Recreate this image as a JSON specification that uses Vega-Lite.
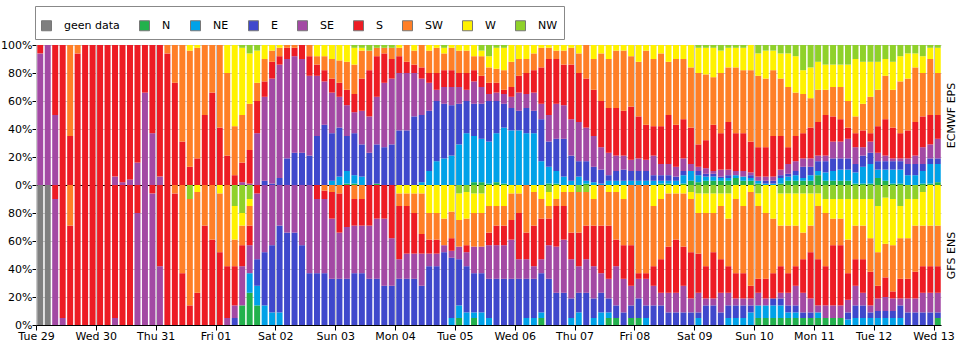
{
"$schema":"https://vega.github.io/schema/vega-lite/v6.json",
"padding":{"left":0,"top":5,"right":0,"bottom":0},
"background":"white",
"bounds":"flush",
"config":{"font":"DejaVu Sans","view":{"stroke":null},
"axis":{"labelFont":"DejaVu Sans","labelFontSize":11,"labelColor":"#000","domainColor":"#000","tickColor":"#000","gridColor":"#c8c8c8","titleFont":"DejaVu Sans","titleFontSize":11,"titleFontWeight":"normal","titleColor":"#000"},
"legend":{"labelFont":"DejaVu Sans","labelFontSize":11,"labelColor":"#000"},
"bar":{"binSpacing":1.5}},
"data":{"values":[
{"m":"EC","i":0,"SE":94,"S":6},{"m":"EC","i":1,"SE":100},{"m":"EC","i":2,"SE":50,"S":50},{"m":"EC","i":3,"S":100},{"m":"EC","i":4,"S":35,"SW":65},{"m":"EC","i":5,"S":94,"SW":6},{"m":"EC","i":6,"S":100},{"m":"EC","i":7,"S":100},{"m":"EC","i":8,"S":100},{"m":"EC","i":9,"S":100},
{"m":"EC","i":10,"SE":6,"S":94},{"m":"EC","i":11,"SE":2,"S":98},{"m":"EC","i":12,"SE":4,"S":96},{"m":"EC","i":13,"SE":16,"S":84},{"m":"EC","i":14,"SE":66,"S":34},{"m":"EC","i":15,"SE":37,"S":63},{"m":"EC","i":16,"SE":6,"S":94},{"m":"EC","i":17,"S":94,"SW":6},{"m":"EC","i":18,"S":73,"SW":27},{"m":"EC","i":19,"S":31,"SW":69},
{"m":"EC","i":20,"S":13,"SW":83,"W":4},{"m":"EC","i":21,"S":19,"SW":79,"W":2},{"m":"EC","i":22,"S":50,"SW":50},{"m":"EC","i":23,"S":66,"SW":34},{"m":"EC","i":24,"S":41,"SW":59},{"m":"EC","i":25,"S":21,"SW":59,"W":20},{"m":"EC","i":26,"S":7,"SW":35,"W":58},{"m":"EC","i":27,"SE":2,"S":14,"SW":34,"W":48,"NW":2},{"m":"EC","i":28,"SE":1,"S":24,"SW":33,"W":36,"NW":6},{"m":"EC","i":29,"SE":37,"S":23,"SW":13,"W":23,"NW":4},
{"m":"EC","i":30,"E":3,"SE":60,"S":11,"SW":16,"W":10},{"m":"EC","i":31,"E":1,"SE":75,"S":12,"SW":8,"W":4},{"m":"EC","i":32,"E":5,"SE":81,"S":6,"SW":6,"W":2},{"m":"EC","i":33,"E":19,"SE":71,"S":8,"SW":2},{"m":"EC","i":34,"E":23,"SE":69,"S":6,"SW":2},{"m":"EC","i":35,"E":23,"SE":67,"S":10},{"m":"EC","i":36,"E":21,"SE":57,"S":14,"SW":8},{"m":"EC","i":37,"E":35,"SE":43,"S":8,"SW":6,"W":8},{"m":"EC","i":38,"E":43,"SE":31,"S":8,"SW":10,"W":8},{"m":"EC","i":39,"NE":3,"E":34,"SE":29,"S":10,"SW":14,"W":10},
{"m":"EC","i":40,"NE":6,"E":35,"SE":22,"S":10,"SW":16,"W":11},{"m":"EC","i":41,"N":1,"NE":9,"E":25,"SE":22,"S":11,"SW":20,"W":12},{"m":"EC","i":42,"N":1,"NE":6,"E":30,"SE":15,"S":13,"SW":21,"W":12,"NW":2},{"m":"EC","i":43,"NE":6,"E":23,"SE":24,"S":23,"SW":20,"W":2,"NW":2},{"m":"EC","i":44,"E":23,"SE":26,"S":33,"SW":14,"NW":4},{"m":"EC","i":45,"N":1,"E":28,"SE":34,"S":29,"SW":6,"NW":2},{"m":"EC","i":46,"E":27,"SE":46,"S":21,"SW":4,"NW":2},{"m":"EC","i":47,"E":29,"SE":47,"S":14,"SW":8,"NW":2},{"m":"EC","i":48,"E":39,"SE":41,"S":12,"SW":6,"W":2},{"m":"EC","i":49,"E":39,"SE":41,"S":8,"SW":12},
{"m":"EC","i":50,"E":49,"SE":31,"S":6,"SW":10,"W":4},{"m":"EC","i":51,"NE":2,"E":48,"SE":26,"S":8,"SW":16},{"m":"EC","i":52,"NE":10,"E":43,"SE":20,"S":7,"SW":16,"W":4},{"m":"EC","i":53,"NE":17,"E":43,"SE":8,"S":12,"SW":18,"W":2},{"m":"EC","i":54,"NE":19,"E":39,"SE":12,"S":12,"SW":12,"W":4,"NW":2},{"m":"EC","i":55,"NE":21,"E":36,"SE":13,"S":12,"SW":16,"W":2},{"m":"EC","i":56,"NE":29,"E":29,"SE":12,"S":10,"SW":16,"W":4},{"m":"EC","i":57,"NE":37,"E":23,"SE":8,"S":12,"SW":16,"W":4},{"m":"EC","i":58,"N":2,"NE":33,"E":23,"SE":16,"S":8,"SW":10,"W":8},{"m":"EC","i":59,"N":2,"NE":31,"E":25,"SE":12,"S":8,"SW":14,"W":4,"NW":4},
{"m":"EC","i":60,"N":1,"NE":30,"E":29,"SE":5,"S":8,"SW":11,"W":8,"NW":8},{"m":"EC","i":61,"N":2,"NE":35,"E":23,"SE":6,"S":7,"SW":10,"W":15,"NW":2},{"m":"EC","i":62,"N":1,"NE":40,"E":17,"SE":7,"S":3,"SW":14,"W":16,"NW":2},{"m":"EC","i":63,"NE":39,"E":16,"SE":8,"S":7,"SW":18,"W":12},{"m":"EC","i":64,"NE":39,"E":14,"SE":13,"S":12,"SW":12,"W":10},{"m":"EC","i":65,"NE":37,"E":18,"SE":10,"S":15,"SW":10,"W":10},{"m":"EC","i":66,"NE":37,"E":16,"SE":13,"S":16,"SW":12,"W":6},{"m":"EC","i":67,"NE":17,"E":30,"SE":11,"S":26,"SW":14,"W":2},{"m":"EC","i":68,"N":1,"NE":12,"E":18,"SE":19,"S":40,"SW":8,"W":2},{"m":"EC","i":69,"N":1,"NE":9,"E":23,"SE":25,"S":32,"SW":6,"W":4},
{"m":"EC","i":70,"NE":6,"E":27,"SE":24,"S":29,"SW":10,"W":4},{"m":"EC","i":71,"NE":3,"E":18,"SE":26,"S":39,"SW":12,"W":2},{"m":"EC","i":72,"NE":6,"E":11,"SE":28,"S":35,"SW":14,"W":6},{"m":"EC","i":73,"N":1,"NE":2,"E":14,"SE":24,"S":35,"SW":24},{"m":"EC","i":74,"NE":2,"E":11,"SE":22,"S":33,"SW":22,"W":10},{"m":"EC","i":75,"NE":1,"E":10,"SE":16,"S":33,"SW":34,"W":6},{"m":"EC","i":76,"NE":3,"E":4,"SE":16,"S":32,"SW":35,"W":10},{"m":"EC","i":77,"NE":3,"E":7,"SE":11,"S":34,"SW":41,"W":4},{"m":"EC","i":78,"NE":3,"E":8,"SE":10,"S":32,"SW":43,"W":4},{"m":"EC","i":79,"NE":3,"E":7,"SE":8,"S":38,"SW":36,"W":8},
{"m":"EC","i":80,"NE":3,"E":7,"SE":9,"S":30,"SW":39,"W":12},{"m":"EC","i":81,"NE":3,"E":7,"SE":8,"S":25,"SW":53,"W":4},{"m":"EC","i":82,"NE":3,"E":4,"SE":14,"S":21,"SW":48,"W":10},{"m":"EC","i":83,"N":1,"NE":2,"E":4,"SE":8,"S":27,"SW":52,"W":6},{"m":"EC","i":84,"N":1,"NE":2,"E":4,"SE":8,"S":35,"SW":38,"W":12},{"m":"EC","i":85,"NE":3,"E":3,"SE":7,"S":30,"SW":47,"W":10},{"m":"EC","i":86,"N":1,"NE":6,"E":3,"SE":9,"S":28,"SW":43,"W":10},{"m":"EC","i":87,"N":3,"NE":7,"SE":5,"S":26,"SW":43,"W":16},{"m":"EC","i":88,"N":2,"NE":5,"E":3,"SE":3,"S":16,"SW":51,"W":18,"NW":2},{"m":"EC","i":89,"N":3,"NE":3,"E":2,"SE":4,"S":20,"SW":47,"W":19,"NW":2},
{"m":"EC","i":90,"N":3,"NE":3,"E":2,"SE":2,"S":33,"SW":34,"W":21,"NW":2},{"m":"EC","i":91,"N":3,"NE":2,"E":1,"SE":5,"S":26,"SW":43,"W":16,"NW":4},{"m":"EC","i":92,"N":3,"NE":2,"E":2,"SE":4,"S":34,"SW":39,"W":14,"NW":2},{"m":"EC","i":93,"N":5,"NE":2,"SE":3,"S":27,"SW":47,"W":14,"NW":2},{"m":"EC","i":94,"N":3,"NE":3,"SE":4,"S":27,"SW":45,"W":16,"NW":2},{"m":"EC","i":95,"N":3,"NE":2,"E":2,"SE":2,"S":22,"SW":51,"W":18},{"m":"EC","i":96,"N":1,"NE":2,"SE":3,"S":21,"SW":51,"W":16,"NW":6},{"m":"EC","i":97,"NE":1,"E":2,"SE":3,"S":21,"SW":49,"W":20,"NW":4},{"m":"EC","i":98,"NE":1,"E":2,"SE":3,"S":29,"SW":47,"W":14,"NW":4},{"m":"EC","i":99,"N":1,"NE":4,"E":2,"SE":4,"S":24,"SW":41,"W":18,"NW":6},
{"m":"EC","i":100,"N":3,"NE":3,"E":2,"SE":7,"S":12,"SW":43,"W":24,"NW":6},{"m":"EC","i":101,"N":3,"NE":4,"E":3,"SE":7,"S":18,"SW":31,"W":26,"NW":8},{"m":"EC","i":102,"N":3,"NE":2,"E":8,"SE":6,"S":18,"SW":28,"W":17,"NW":18},{"m":"EC","i":103,"N":3,"NE":4,"E":6,"SE":6,"S":22,"SW":21,"W":22,"NW":16},{"m":"EC","i":104,"N":7,"NE":3,"E":7,"SE":4,"S":24,"SW":23,"W":20,"NW":12},{"m":"EC","i":105,"N":3,"NE":6,"E":8,"SE":4,"S":29,"SW":18,"W":18,"NW":14},{"m":"EC","i":106,"N":3,"NE":7,"E":9,"SE":12,"S":18,"SW":21,"W":16,"NW":14},{"m":"EC","i":107,"N":3,"NE":8,"E":8,"SE":12,"S":16,"SW":23,"W":16,"NW":14},{"m":"EC","i":108,"N":3,"NE":8,"E":8,"SE":14,"S":8,"SW":19,"W":26,"NW":14},{"m":"EC","i":109,"N":1,"NE":8,"E":6,"SE":12,"S":10,"SW":12,"W":41,"NW":10},
{"m":"EC","i":110,"N":1,"NE":12,"E":8,"SE":6,"S":12,"SW":19,"W":30,"NW":12},{"m":"EC","i":111,"N":1,"NE":14,"E":8,"SE":8,"S":6,"SW":26,"W":25,"NW":12},{"m":"EC","i":112,"N":5,"NE":6,"E":6,"SE":6,"S":19,"SW":26,"W":20,"NW":12},{"m":"EC","i":113,"N":3,"NE":8,"E":6,"SE":4,"S":26,"SW":31,"W":12,"NW":10},{"m":"EC","i":114,"N":1,"NE":10,"E":6,"SE":2,"S":22,"SW":27,"W":20,"NW":12},{"m":"EC","i":115,"N":1,"NE":10,"E":6,"SE":2,"S":18,"SW":37,"W":18,"NW":8},{"m":"EC","i":116,"NE":7,"E":8,"SE":4,"S":20,"SW":37,"W":18,"NW":6},{"m":"EC","i":117,"NE":7,"E":8,"SE":6,"S":24,"SW":39,"W":10,"NW":6},{"m":"EC","i":118,"N":1,"NE":9,"E":5,"SE":12,"S":22,"SW":31,"W":12,"NW":8},{"m":"EC","i":119,"N":1,"NE":14,"E":4,"SE":10,"S":21,"SW":40,"W":8,"NW":2},
{"m":"EC","i":120,"N":2,"NE":13,"E":4,"SE":14,"S":17,"SW":30,"W":18,"NW":2},
{"m":"GFS","i":0,"geen data":100},{"m":"GFS","i":1,"geen data":100},{"m":"GFS","i":2,"SE":90,"S":10},{"m":"GFS","i":3,"SE":5,"S":95},{"m":"GFS","i":4,"S":71,"SW":29},{"m":"GFS","i":5,"S":100},{"m":"GFS","i":6,"S":100},{"m":"GFS","i":7,"S":100},{"m":"GFS","i":8,"S":100},{"m":"GFS","i":9,"S":100},
{"m":"GFS","i":10,"SE":5,"S":95},{"m":"GFS","i":11,"S":100},{"m":"GFS","i":12,"S":100},{"m":"GFS","i":13,"SE":80,"S":20},{"m":"GFS","i":14,"SE":100},{"m":"GFS","i":15,"SE":94,"S":6},{"m":"GFS","i":16,"SE":42,"S":58},{"m":"GFS","i":17,"S":100},{"m":"GFS","i":18,"S":94,"SW":6},{"m":"GFS","i":19,"S":37,"SW":63},
{"m":"GFS","i":20,"S":14,"SW":76,"NW":10},{"m":"GFS","i":21,"S":23,"SW":72,"W":5},{"m":"GFS","i":22,"S":71,"SW":29},{"m":"GFS","i":23,"S":61,"SW":39},{"m":"GFS","i":24,"S":52,"SW":42,"W":6},{"m":"GFS","i":25,"SE":5,"S":37,"SW":58},{"m":"GFS","i":26,"E":5,"SE":9,"S":28,"SW":19,"W":24,"NW":15},{"m":"GFS","i":27,"N":14,"SE":28,"S":15,"SW":14,"W":9,"NW":20},{"m":"GFS","i":28,"N":23,"NE":14,"SE":20,"S":14,"SW":14,"W":5,"NW":10},{"m":"GFS","i":29,"N":14,"NE":14,"E":19,"SE":47,"S":6},
{"m":"GFS","i":30,"NE":14,"E":38,"SE":48},{"m":"GFS","i":31,"NE":9,"E":48,"SE":43},{"m":"GFS","i":32,"NE":9,"E":62,"SE":29},{"m":"GFS","i":33,"E":66,"SE":34},{"m":"GFS","i":34,"E":66,"SE":34},{"m":"GFS","i":35,"E":57,"SE":43},{"m":"GFS","i":36,"E":37,"SE":63},{"m":"GFS","i":37,"E":37,"SE":53,"S":10},{"m":"GFS","i":38,"E":37,"SE":53,"S":6,"SW":4},{"m":"GFS","i":39,"E":33,"SE":43,"S":19,"SW":5},
{"m":"GFS","i":40,"E":33,"SE":33,"S":28,"SW":6},{"m":"GFS","i":41,"E":33,"SE":37,"S":30},{"m":"GFS","i":42,"E":37,"SE":34,"S":19,"SW":10},{"m":"GFS","i":43,"E":37,"SE":34,"S":19,"SW":10},{"m":"GFS","i":44,"E":33,"SE":38,"S":29},{"m":"GFS","i":45,"E":33,"SE":43,"S":24},{"m":"GFS","i":46,"E":28,"SE":48,"S":24},{"m":"GFS","i":47,"E":28,"SE":34,"S":38},{"m":"GFS","i":48,"E":33,"SE":14,"S":38,"SW":9,"W":6},{"m":"GFS","i":49,"E":33,"SE":18,"S":34,"SW":9,"W":6},
{"m":"GFS","i":50,"E":33,"SE":18,"S":29,"SW":14,"W":6},{"m":"GFS","i":51,"E":28,"SE":23,"S":14,"SW":29,"W":6},{"m":"GFS","i":52,"E":42,"SE":9,"S":10,"SW":19,"W":20},{"m":"GFS","i":53,"E":42,"SE":9,"S":10,"SW":19,"W":20},{"m":"GFS","i":54,"E":52,"SE":5,"SW":19,"W":24},{"m":"GFS","i":55,"NE":5,"E":43,"SE":5,"S":9,"SW":19,"W":19},{"m":"GFS","i":56,"N":5,"NE":9,"E":33,"SE":9,"SW":19,"W":19,"NW":6},{"m":"GFS","i":57,"NE":9,"E":33,"SE":10,"S":5,"SW":19,"W":19,"NW":5},{"m":"GFS","i":58,"N":5,"NE":4,"E":28,"SE":19,"SW":24,"W":14,"NW":6},{"m":"GFS","i":59,"NE":9,"E":28,"SE":19,"SW":24,"W":14,"NW":6},
{"m":"GFS","i":60,"NE":5,"E":28,"SE":24,"S":9,"SW":19,"W":15},{"m":"GFS","i":61,"E":33,"SE":24,"S":14,"SW":14,"W":15},{"m":"GFS","i":62,"E":33,"SE":24,"S":14,"SW":14,"W":15},{"m":"GFS","i":63,"E":33,"SE":28,"S":14,"SW":19,"W":6},{"m":"GFS","i":64,"E":33,"SE":14,"S":33,"SW":14,"W":6},{"m":"GFS","i":65,"NE":5,"E":28,"SE":14,"S":19,"SW":34},{"m":"GFS","i":66,"NE":5,"E":28,"SE":9,"S":29,"SW":24,"W":5},{"m":"GFS","i":67,"N":5,"NE":4,"E":28,"SE":10,"S":29,"SW":14,"W":10},{"m":"GFS","i":68,"E":33,"SE":24,"S":19,"SW":9,"W":10,"NW":5},{"m":"GFS","i":69,"E":23,"SE":33,"S":29,"SW":5,"W":10},
{"m":"GFS","i":70,"E":23,"SE":38,"S":24,"SW":10,"W":5},{"m":"GFS","i":71,"NE":5,"E":14,"SE":28,"S":19,"SW":29,"W":5},{"m":"GFS","i":72,"NE":9,"E":14,"SE":19,"S":24,"SW":29,"NW":5},{"m":"GFS","i":73,"E":23,"SE":24,"S":24,"SW":24,"NW":5},{"m":"GFS","i":74,"NE":5,"E":14,"SE":23,"S":29,"SW":19,"W":10},{"m":"GFS","i":75,"NE":9,"E":14,"SE":14,"S":34,"SW":29},{"m":"GFS","i":76,"N":5,"NE":4,"E":10,"SE":14,"S":38,"SW":24,"W":5},{"m":"GFS","i":77,"N":5,"E":9,"SE":28,"S":19,"SW":34,"W":5},{"m":"GFS","i":78,"E":9,"SE":24,"S":24,"SW":33,"W":10},{"m":"GFS","i":79,"N":5,"E":9,"SE":14,"S":29,"SW":43},
{"m":"GFS","i":80,"N":5,"E":14,"SE":14,"S":4,"SW":63},{"m":"GFS","i":81,"NE":5,"E":9,"SE":19,"S":4,"SW":63},{"m":"GFS","i":82,"E":14,"SE":14,"S":14,"SW":43,"W":15},{"m":"GFS","i":83,"E":14,"SE":9,"S":24,"SW":43,"W":10},{"m":"GFS","i":84,"E":9,"SE":14,"S":33,"SW":38,"W":6},{"m":"GFS","i":85,"E":9,"SE":14,"S":38,"SW":33,"W":6},{"m":"GFS","i":86,"E":9,"SE":19,"S":28,"SW":38,"W":6},{"m":"GFS","i":87,"E":9,"SE":10,"S":33,"SW":38,"W":5,"NW":5},{"m":"GFS","i":88,"NE":5,"E":4,"SE":14,"S":28,"SW":29,"W":14,"NW":6},{"m":"GFS","i":89,"E":14,"SE":5,"S":23,"SW":38,"W":14,"NW":6},
{"m":"GFS","i":90,"E":14,"SE":5,"S":33,"SW":28,"W":14,"NW":6},{"m":"GFS","i":91,"E":9,"SE":14,"S":24,"SW":38,"W":9,"NW":6},{"m":"GFS","i":92,"NE":5,"E":9,"SE":9,"S":19,"SW":34,"W":18,"NW":6},{"m":"GFS","i":93,"NE":5,"E":9,"SE":5,"S":18,"SW":53,"W":10},{"m":"GFS","i":94,"NE":5,"E":9,"SE":5,"S":18,"SW":48,"W":15},{"m":"GFS","i":95,"NE":9,"E":5,"SE":5,"S":9,"SW":67,"W":5},{"m":"GFS","i":96,"N":5,"NE":9,"SE":9,"S":10,"SW":52,"W":9,"NW":6},{"m":"GFS","i":97,"N":5,"NE":9,"SE":5,"S":14,"SW":47,"W":20},{"m":"GFS","i":98,"N":5,"NE":9,"E":5,"S":18,"SW":39,"W":24},{"m":"GFS","i":99,"N":5,"NE":9,"E":5,"SE":4,"S":19,"SW":29,"W":23,"NW":6},
{"m":"GFS","i":100,"N":5,"NE":4,"E":5,"SE":9,"S":14,"SW":34,"W":23,"NW":6},{"m":"GFS","i":101,"N":5,"NE":4,"E":5,"SE":14,"S":14,"SW":29,"W":23,"NW":6},{"m":"GFS","i":102,"N":5,"E":4,"SE":14,"S":24,"SW":19,"W":28,"NW":6},{"m":"GFS","i":103,"N":5,"E":4,"SE":10,"S":33,"SW":19,"W":23,"NW":6},{"m":"GFS","i":104,"N":5,"NE":4,"SE":5,"S":33,"SW":38,"W":9,"NW":6},{"m":"GFS","i":105,"N":5,"SE":9,"S":28,"SW":38,"W":10,"NW":10},{"m":"GFS","i":106,"N":5,"SE":9,"S":43,"SW":19,"W":14,"NW":10},{"m":"GFS","i":107,"N":5,"SE":9,"S":43,"SW":19,"W":14,"NW":10},{"m":"GFS","i":108,"NE":4,"E":5,"SE":9,"S":19,"SW":24,"W":29,"NW":10},{"m":"GFS","i":109,"NE":5,"E":9,"SE":14,"S":19,"SW":24,"W":19,"NW":10},
{"m":"GFS","i":110,"NE":5,"E":9,"SE":9,"S":24,"SW":24,"W":19,"NW":10},{"m":"GFS","i":111,"NE":5,"E":4,"SE":5,"S":24,"SW":24,"W":28,"NW":10},{"m":"GFS","i":112,"NE":5,"E":5,"SE":9,"S":9,"SW":24,"W":33,"NW":15},{"m":"GFS","i":113,"NE":5,"E":5,"SE":10,"S":14,"SW":24,"W":33,"NW":9},{"m":"GFS","i":114,"NE":5,"E":5,"SE":9,"S":5,"SW":33,"W":33,"NW":10},{"m":"GFS","i":115,"NE":5,"E":9,"SE":5,"S":14,"SW":29,"W":23,"NW":15},{"m":"GFS","i":116,"E":9,"SE":10,"S":14,"SW":29,"W":28,"NW":10},{"m":"GFS","i":117,"E":9,"SE":10,"S":19,"SW":33,"W":19,"NW":10},{"m":"GFS","i":118,"E":9,"SE":14,"S":19,"SW":29,"W":24,"NW":5},{"m":"GFS","i":119,"E":9,"SE":14,"S":19,"SW":29,"W":29},
{"m":"GFS","i":120,"N":5,"E":4,"SE":14,"S":19,"SW":29,"W":29}
]},
"transform":[{"fold":["geen data","N","NE","E","SE","S","SW","W","NW"],"as":["dir","pct"]},{"filter":"datum.pct > 0"},
{"lookup":"dir","from":{"data":{"values":[{"dir":"geen data","k":0},{"dir":"N","k":1},{"dir":"NE","k":2},{"dir":"E","k":3},{"dir":"SE","k":4},{"dir":"S","k":5},{"dir":"SW","k":6},{"dir":"W","k":7},{"dir":"NW","k":8}]},"key":"dir","fields":["k"]}}],
"spacing":0,
"vconcat":[
{"width":905,"height":140,
"transform":[{"filter":{"field":"m","equal":"EC"}}],
"mark":{"type":"bar"},
"encoding":{
"x":{"field":"i","type":"quantitative","bin":{"step":1,"extent":[0,121]},"scale":{"domain":[0,121],"nice":false,"zero":false},
"axis":{"values":[0,8,16,24,32,40,48,56,64,72,80,88,96,104,112,120],"labels":false,"ticks":false,"title":null,"grid":true,"domain":true,"zindex":1}},
"y":{"field":"pct","type":"quantitative","stack":"normalize","scale":{"domain":[0,1],"nice":false},
"axis":{"values":[0,0.2,0.4,0.6,0.8,1],"format":".0%","title":"ECMWF EPS","titleAngle":270,"titleX":915,"titleY":70,"titleAlign":"center","titleBaseline":"middle","tickSize":4,"labelPadding":0,"grid":true}},
"order":{"field":"k","type":"quantitative","sort":"ascending"},
"color":{"field":"dir","type":"nominal",
"scale":{"domain":["geen data","N","NE","E","SE","S","SW","W","NW"],"range":["#7f7f7f","#22b14c","#00a2e8","#3f48cc","#a349a4","#ed1c24","#ff7f27","#fff200","#8fd12a"]},
"legend":{"orient":"none","legendX":-1,"legendY":-39,"direction":"horizontal","title":" ","titleFontSize":4,"titlePadding":4,"symbolType":"square","symbolSize":100,"symbolStrokeWidth":1,"symbolStrokeColor":"#777","symbolOpacity":1,"labelOffset":12,"columnPadding":17,"padding":6,"strokeColor":"#888","fillColor":"white","labelFontSize":11}}
}},
{"width":905,"height":140,
"transform":[{"filter":{"field":"m","equal":"GFS"}}],
"mark":{"type":"bar"},
"encoding":{
"x":{"field":"i","type":"quantitative","bin":{"step":1,"extent":[0,121]},"scale":{"domain":[0,121],"nice":false,"zero":false},
"axis":{"values":[0,8,16,24,32,40,48,56,64,72,80,88,96,104,112,120],"labelExpr":"['Tue 29','Wed 30','Thu 31','Fri 01','Sat 02','Sun 03','Mon 04','Tue 05','Wed 06','Thu 07','Fri 08','Sat 09','Sun 10','Mon 11','Tue 12','Wed 13'][round(datum.value/8)]","labelFlush":false,"labelOverlap":false,"labelDx":3,"labelPadding":0,"tickSize":5,"title":null,"grid":true,"domain":true,"zindex":1}},
"y":{"field":"pct","type":"quantitative","stack":"normalize","scale":{"domain":[0,1],"nice":false},
"axis":{"values":[0,0.2,0.4,0.6,0.8],"format":".0%","title":"GFS ENS","titleAngle":270,"titleX":915,"titleY":70,"titleAlign":"center","titleBaseline":"middle","tickSize":4,"labelPadding":0,"grid":true}},
"order":{"field":"k","type":"quantitative","sort":"ascending"},
"color":{"field":"dir","type":"nominal",
"scale":{"domain":["geen data","N","NE","E","SE","S","SW","W","NW"],"range":["#7f7f7f","#22b14c","#00a2e8","#3f48cc","#a349a4","#ed1c24","#ff7f27","#fff200","#8fd12a"]}}
}}
]
}
